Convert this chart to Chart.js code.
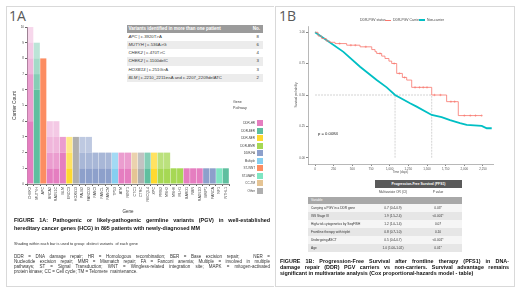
<!DOCTYPE html>
<html>
<head>
<meta charset="utf-8">
<script src="https://cdn.jsdelivr.net/npm/chart.js@4.4.1/dist/chart.umd.min.js"></script>
<style>
  body { margin:0; width:520px; height:292px; background:#fff; position:relative; overflow:hidden;
         font-family:'Liberation Sans', Arial, sans-serif; color:#333; }
  .t { position:absolute; white-space:nowrap; }
  .box { position:absolute; border:1px solid #d9d9d9; box-sizing:border-box; }
  .just { text-align:justify; text-align-last:justify; }
  canvas { position:absolute; }
</style>
</head>
<body>

<div class="box" style="left:6px;top:6px;width:268px;height:281px;border-right:none;"></div>
<div class="box" style="left:275px;top:6px;width:240px;height:281px;"></div>

<div class="t" style="left:9px;top:6px;font:14px 'Open Sans';color:#595959;">1A</div>
<div class="t" style="left:279px;top:6px;font:14px 'Open Sans';color:#595959;">1B</div>

<canvas id="bars" width="222" height="196" style="left:10px;top:20px;"></canvas>
<canvas id="km" width="206" height="156" style="left:292px;top:20px;"></canvas>

<div id="variantTable" style="position:absolute;left:127px;top:25px;width:136px;"></div>
<div id="pathwayLegend" style="position:absolute;left:220px;top:100px;width:44px;"></div>

<div class="t" style="left:14px;top:217px;width:256px;font:bold 5.4px 'Liberation Sans';color:#111;" >
  <div class="just">FIGURE 1A: Pathogenic or likely-pathogenic germline variants (PGV) in well-established</div>
  <div style="margin-top:1.6px;">hereditary cancer genes (HCG) in 895 patients with newly-diagnosed MM</div>
</div>
<div class="t" style="left:14px;top:241px;font:3.9px 'Liberation Sans';color:#333;">Shading within each bar is used to group&nbsp; distinct variants&nbsp; of each gene</div>
<div class="t" style="left:14px;top:254px;width:256px;font:4.5px 'Liberation Sans';color:#333;line-height:5px;">
  <div class="just">DDR = DNA damage repair; HR = Homologous recombination; BER = Base excision repair;&nbsp;&nbsp; NER =</div>
  <div class="just">Nucleotide excision repair; MMR = Mismatch repair; FA = Fanconi anemia; Multiple = involved in multiple</div>
  <div class="just">pathways; ST = Signal Transduction; WNT = Wingless-related integration site; MAPK = mitogen-activated</div>
  <div>protein kinase; CC = Cell cycle; TM = Telomere&nbsp; maintenance.</div>
</div>

<div class="t" style="left:360px;top:18px;font:3.4px 'Liberation Sans';color:#444;">DDR-PGV status</div>
<div class="t" style="left:385px;top:19.6px;width:6px;height:0.8px;background:#F8766D;"></div>
<div class="t" style="left:393px;top:18px;font:3.4px 'Liberation Sans';color:#444;">DDR-PGV Carrier</div>
<div class="t" style="left:419px;top:19.4px;width:6px;height:1.2px;background:#00BFC4;"></div>
<div class="t" style="left:427px;top:18px;font:3.4px 'Liberation Sans';color:#444;">Non-carrier</div>
<div class="t" style="left:318px;top:130.5px;font:4.2px 'Liberation Sans';color:#222;">p = 0.0084</div>

<div id="coxTable" style="position:absolute;left:308px;top:180px;width:154px;"></div>

<div class="t" style="left:280px;top:258px;width:229px;font:bold 5.4px 'Liberation Sans';color:#111;line-height:6px;">
  <div class="just">FIGURE 1B: Progression-Free Survival after frontline therapy (PFS1) in DNA-</div>
  <div class="just">damage repair (DDR) PGV carriers vs non-carriers. Survival advantage remains</div>
  <div>significant in multivariate analysis (Cox proportional-hazards model - table)</div>
</div>

<script>
////////////////////////////////////////////////////////////////////////
// data
var genes = ["CHEK2","MUTYH","APC","BRCA2","RAD51C","BLM","ERCC3","HOXB13","PALB2","FANCD2",
             "FANCI","FANCL","FANCM","TP53","ATM","RINT1","CTC1","CTRC","RECQL4","XPC","PMS2","MSH2",
             "MSH6","MLH1","BARD1","NBN","RAD51D","BRIP1","FANCA","NF1","NTHL1"];
var genePathway = ["DDR-HR","DDR-BER","ST-WNT","DDR-HR","DDR-HR","DDR-HR","DDR-NER","Other","DDR-FA","DDR-FA",
                   "DDR-FA","DDR-FA","DDR-FA","Multiple","DDR-HR","DDR-HR","CC-TM","Other","DDR-BER","DDR-NER","DDR-MMR","DDR-MMR",
                   "DDR-MMR","DDR-MMR","DDR-HR","DDR-HR","DDR-HR","DDR-FA","DDR-FA","ST-MAPK","DDR-BER"];
// carriers per distinct variant, one array per shading layer
var variant1 = [4,6,8,1,1,2,1,3,1,1, 1,1,1,1,1,1,1,1,1,1,1,1, 1,1,1,1,1,1,1,1,1];
var variant2 = [3,1,0,1,1,1,1,0,1,1, 1,1,1,1,1,1,1,1,1,1,1,1, 0,0,0,0,0,0,0,0,0];
var variant3 = [1,1,0,1,1,0,1,0,1,1, 0,0,0,0,0,0,0,0,0,0,0,0, 0,0,0,0,0,0,0,0,0];
var variant4 = [1,1,0,1,1,0,0,0,0,0, 0,0,0,0,0,0,0,0,0,0,0,0, 0,0,0,0,0,0,0,0,0];
var variant5 = [1,0,0,0,0,0,0,0,0,0, 0,0,0,0,0,0,0,0,0,0,0,0, 0,0,0,0,0,0,0,0,0];
var barYTicks = [0,1,2,3,4,5,6,7,8,9,10];

var pathwayNames  = ["DDR-HR","DDR-BER","DDR-NER","DDR-MMR","DDR-FA","Multiple","ST-WNT","ST-MAPK","CC-TM","Other"];
var pathwayColors = ["#E57EC0","#5FBF9F","#FFD92F","#A6D854","#8DA0CB","#86CFF0","#FC8D62","#7FE6C2","#E5C494","#AFAFAF"];

var repeatedVariants = ["<i>APC</i> | c.3920T&gt;A","<i>MUTYH</i> | c.536A&gt;G","<i>CHEK2</i> | c.470T&gt;C",
                        "<i>CHEK2</i> | c.1100delC","<i>HOXB13</i> | c.251G&gt;A",
                        "<i>BLM</i> | c.2210_2211insA and c.2207_2209delATC"];
var repeatedCounts = [8,6,4,3,3,2];

var carrierDays = [0,40,90,150,200,268,424,603,760,804,826,893,937,990,1027,1094,1170,1228,1295,1563,1763,1919,2232];
var carrierSurv = [1.0,0.97,0.95,0.93,0.92,0.91,0.897,0.884,0.862,0.845,0.831,0.81,0.791,0.77,0.751,0.672,0.64,0.619,0.561,0.50,0.447,0.336,0.336];
var carrierCensorDays = [330,480,540,680,870,1060,1130,1200,1340,1400,1450,1500,1600,1680,1820,1870,2000,2080,2150,2232];
var nonCarrierDays = [0,157,380,603,826,960,1072,1273,1361,1563,1696,1809,1942,2032,2233,2300,2367];
var nonCarrierSurv = [1.0,0.937,0.844,0.725,0.62,0.561,0.50,0.434,0.407,0.341,0.323,0.30,0.275,0.262,0.254,0.235,0.235];
var medianDays = [1072,1563];
var kmXTicks = [0,250,500,750,1000,1250,1500,1750,2000,2250];
var kmYTicks = [0,0.25,0.5,0.75,1];

var coxVariables = ["Carrying a PGV in a DDR gene","ISS Stage III","High-risk cytogenetics by SeqFISH",
                    "Frontline therapy with triplet","Undergoing ASCT","Age"];
var coxOR = ["0.7 (0.4-0.9)","1.9 (1.5-2.4)","1.2 (1.0-1.4)","0.8 (0.7-1.0)","0.5 (0.4-0.7)","1.0 (1.00-1.02)"];
var coxP = ["0.03*","<0.001*","0.07","0.10","<0.001*","0.01*"];

////////////////////////////////////////////////////////////////////////
function rgba(hex, a) {
  var r = parseInt(hex.substr(1,2),16), g = parseInt(hex.substr(3,2),16), b = parseInt(hex.substr(5,2),16);
  return "rgba(" + r + "," + g + "," + b + "," + a + ")";
}
function colorOf(p) { return pathwayColors[pathwayNames.indexOf(p)]; }

Chart.defaults.font.family = "'Liberation Sans', Arial, sans-serif";
Chart.defaults.animation = false;

// stacked bars, lighter shade for each further variant
var layers = [variant1, variant2, variant3, variant4, variant5];
var layerAlpha = [1, 0.76, 0.57, 0.42, 0.3];
var barDatasets = [];
for (var i = 0; i < layers.length; i++) {
  barDatasets.push({
    label: "variant " + (i + 1),
    data: layers[i],
    backgroundColor: genePathway.map(function (p) { return rgba(colorOf(p), layerAlpha[i]); }),
    borderWidth: 0,
    barPercentage: 0.94,
    categoryPercentage: 1
  });
}

new Chart(document.getElementById("bars"), {
  type: "bar",
  data: { labels: genes, datasets: barDatasets },
  options: {
    responsive: false,
    devicePixelRatio: 1,
    layout: { padding: { top: 7, right: 3, left: 0, bottom: 0 } },
    plugins: { legend: { display: false }, tooltip: { enabled: false } },
    scales: {
      x: {
        stacked: true,
        grid: { drawOnChartArea: false, tickLength: 2, color: "#666" },
        border: { color: "#666", width: 0.8 },
        ticks: { autoSkip: false, maxRotation: 90, minRotation: 90, font: { size: 3.6 }, color: "#444", padding: 1 },
        title: { display: true, text: "Gene", font: { size: 4.5 }, color: "#333", padding: { top: 0, bottom: 2 } },
        afterFit: function (s) { s.height = 32; }
      },
      y: {
        stacked: true, min: 0, max: 10,
        afterBuildTicks: function (s) { s.ticks = barYTicks.map(function (v) { return { value: v }; }); },
        grid: { drawOnChartArea: false, tickLength: 2, color: "#666" },
        border: { color: "#666", width: 0.8 },
        ticks: { font: { size: 3 }, color: "#444", padding: 1 },
        title: { display: true, text: "Carrier Count", font: { size: 4.8 }, color: "#333", padding: { top: 2, bottom: 0 } },
        afterFit: function (s) { s.width = 17; }
      }
    }
  }
});

////////////////////////////////////////////////////////////////////////
// Kaplan-Meier
function pts(xs, ys) { return xs.map(function (x, i) { return { x: x, y: ys[i] }; }); }
function carrierAt(d) {
  var s = carrierSurv[0];
  for (var i = 0; i < carrierDays.length; i++) { if (carrierDays[i] <= d) s = carrierSurv[i]; }
  return s;
}
var lineGrey = "#b5b5b5";
var kmDatasets = [
  { data: pts(carrierDays, carrierSurv), borderColor: "#F8766D", borderWidth: 0.8, stepped: "before", pointRadius: 0, fill: false },
  { type: "scatter", data: carrierCensorDays.map(function (d) { return { x: d, y: carrierAt(d) }; }),
    pointStyle: "cross", pointRadius: 1.2, borderColor: "#F8766D", borderWidth: 0.5, backgroundColor: "#F8766D", showLine: false },
  { data: pts(nonCarrierDays, nonCarrierSurv), borderColor: "#00BFC4", borderWidth: 1.8, pointRadius: 0, fill: false },
  { data: [{ x: 0, y: 0.5 }, { x: medianDays[1], y: 0.5 }], borderColor: lineGrey, borderWidth: 0.6, borderDash: [2, 1], pointRadius: 0 },
  { data: [{ x: medianDays[0], y: 0 }, { x: medianDays[0], y: 0.5 }], borderColor: lineGrey, borderWidth: 0.6, borderDash: [2, 1], pointRadius: 0 },
  { data: [{ x: medianDays[1], y: 0 }, { x: medianDays[1], y: 0.5 }], borderColor: lineGrey, borderWidth: 0.6, borderDash: [2, 1], pointRadius: 0 }
];

new Chart(document.getElementById("km"), {
  type: "line",
  data: { datasets: kmDatasets },
  options: {
    responsive: false,
    devicePixelRatio: 1,
    layout: { padding: { top: 6, right: 5, left: 0, bottom: 0 } },
    plugins: { legend: { display: false }, tooltip: { enabled: false } },
    scales: {
      x: {
        type: "linear", min: -94, max: 2384,
        afterBuildTicks: function (s) { s.ticks = kmXTicks.map(function (v) { return { value: v }; }); },
        grid: { drawOnChartArea: false, tickLength: 2, color: "#888" },
        border: { color: "#888", width: 0.6 },
        ticks: { font: { size: 3 }, color: "#555", padding: 1 },
        title: { display: true, text: "Time (days)", font: { size: 3 }, color: "#555", padding: { top: 0, bottom: 2 } },
        afterFit: function (s) { s.height = 12; }
      },
      y: {
        min: -0.05, max: 1.05,
        afterBuildTicks: function (s) { s.ticks = kmYTicks.map(function (v) { return { value: v }; }); },
        grid: { drawOnChartArea: false, tickLength: 2, color: "#888" },
        border: { color: "#888", width: 0.6 },
        ticks: { font: { size: 3 }, color: "#555", padding: 1, callback: function (v) { return v.toFixed(2); } },
        title: { display: true, text: "Survival probability", font: { size: 3 }, color: "#555", padding: { top: 2, bottom: 0 } },
        afterFit: function (s) { s.width = 16; }
      }
    }
  }
});

////////////////////////////////////////////////////////////////////////
// tables and legend
var html = '<div style="background:#9b9b9b;color:#fff;font:bold 4.5px \'Liberation Sans\';height:7.5px;line-height:7.5px;position:relative;">' +
  '<span style="position:absolute;left:1.5px;">Variants identified in more than one patient</span>' +
  '<span style="position:absolute;right:3px;">No.</span></div>';
for (var r = 0; r < repeatedVariants.length; r++) {
  html += '<div style="background:' + (r % 2 ? '#ececec' : '#fff') + ';font:4.3px \'Liberation Sans\';color:#333;height:8.3px;line-height:8.3px;position:relative;">' +
    '<span style="position:absolute;left:1.5px;">' + repeatedVariants[r] + '</span>' +
    '<span style="position:absolute;right:4px;">' + repeatedCounts[r] + '</span></div>';
}
document.getElementById("variantTable").innerHTML = html;

var leg = '<div style="font:3.6px \'Liberation Sans\';color:#444;line-height:5.5px;padding-left:13px;">Gene<br>Pathway</div>' +
          '<div style="height:8px;"></div>';
for (var k = 0; k < pathwayNames.length; k++) {
  leg += '<div style="height:7.5px;position:relative;">' +
    '<span style="position:absolute;right:9px;top:2px;font:3px \'Liberation Sans\';color:#444;">' + pathwayNames[k] + '</span>' +
    '<span style="position:absolute;right:1px;top:1px;width:6px;height:6px;background:' + pathwayColors[k] + ';"></span></div>';
}
document.getElementById("pathwayLegend").innerHTML = leg;

var cox = '<div style="position:relative;height:8px;">' +
  '<div style="position:absolute;left:67px;width:87px;height:8px;background:#5a5a5a;color:#fff;font:bold 3.4px \'Liberation Sans\';line-height:8px;text-align:center;">Progression-Free Survival (PFS1)</div></div>' +
  '<div style="position:relative;height:9px;font:3.2px \'Liberation Sans\';color:#444;line-height:9px;">' +
  '<span style="position:absolute;left:67px;width:36px;text-align:center;">Multivariate OR (CI)</span>' +
  '<span style="position:absolute;left:112px;width:36px;text-align:center;">P value</span></div>' +
  '<div style="height:7px;background:#a8a8a8;color:#fff;font:3.2px \'Liberation Sans\';line-height:7px;padding-left:3px;">Variable</div>';
for (var c = 0; c < coxVariables.length; c++) {
  cox += '<div style="position:relative;height:8px;background:' + (c % 2 ? '#e6e6e6' : '#f5f5f5') + ';font:3.2px \'Liberation Sans\';color:#333;line-height:8px;">' +
    '<span style="position:absolute;left:3px;">' + coxVariables[c] + '</span>' +
    '<span style="position:absolute;left:67px;width:36px;text-align:center;">' + coxOR[c] + '</span>' +
    '<span style="position:absolute;left:112px;width:36px;text-align:center;">' + coxP[c] + '</span></div>';
}
document.getElementById("coxTable").innerHTML = cox;
</script>
</body>
</html>
